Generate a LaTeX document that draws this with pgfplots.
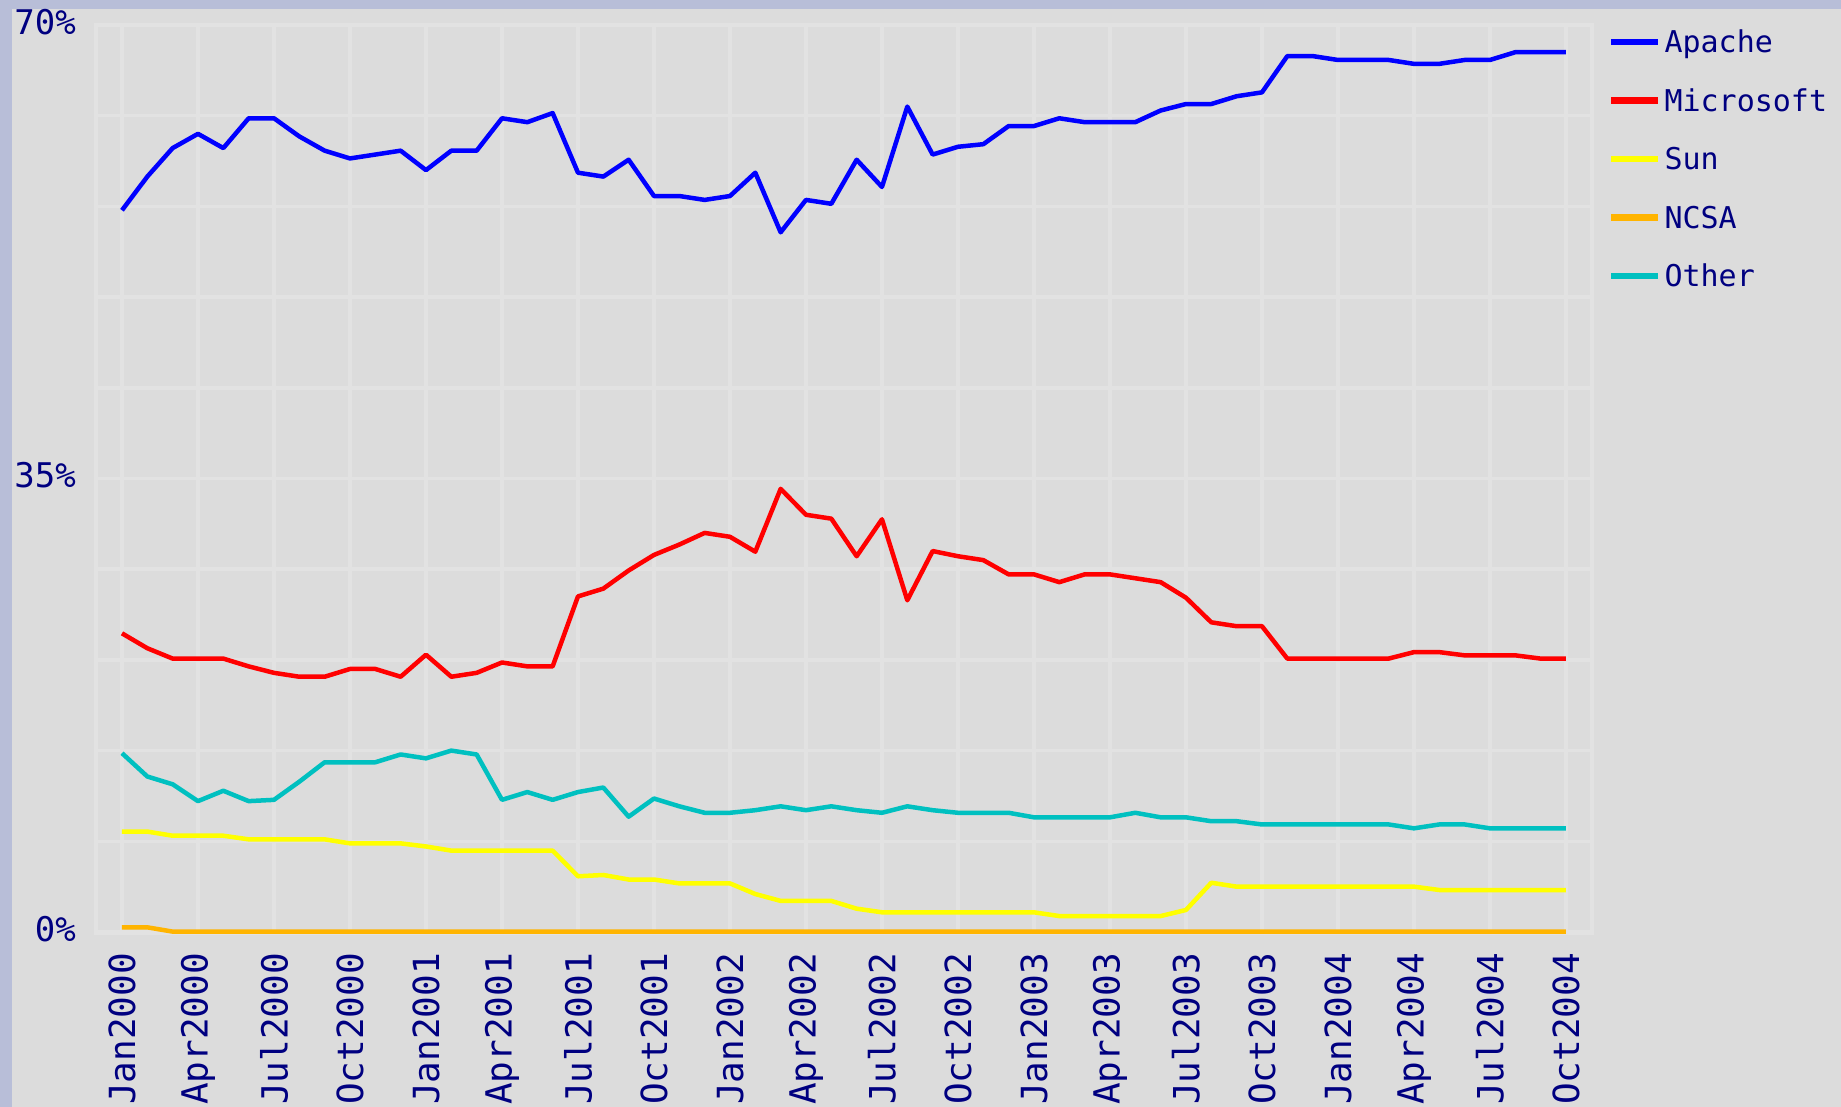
\documentclass[border=0pt]{standalone}
\usepackage{pgfplots}
\pgfplotsset{compat=1.18}
\usepackage{fontspec}
\newfontfamily\pix{DejaVu Sans Mono}
\definecolor{bordercol}{HTML}{B8BED8}
\definecolor{bgcol}{HTML}{DCDCDC}
\definecolor{gridcol}{HTML}{E2E2E2}
\definecolor{txtcol}{HTML}{000080}
\definecolor{apacheblue}{HTML}{0000FF}
\definecolor{msred}{HTML}{FF0000}
\definecolor{sunyellow}{HTML}{FFFF00}
\definecolor{ncsaorange}{HTML}{FFB400}
\definecolor{othercyan}{HTML}{00C0C0}
\begin{document}
\begin{tikzpicture}
\fill[bordercol] (0,0) rectangle (1841pt,1107pt);
\fill[bgcol] (12pt,0) rectangle (1841pt,1098pt);
\path[use as bounding box] (0,0) rectangle (1841pt,1107pt);
\begin{axis}[
  at={(96pt,174pt)}, anchor=south west,
  scale only axis, width=1496pt, height=908pt,
  xmin=-1.026, xmax=58.03, ymin=-0.077, ymax=70,
  clip=false,
  axis line style={gridcol, line width=3.5pt},
  grid style={gridcol, line width=3.5pt},
  minor grid style={gridcol, line width=3.5pt},
  xmajorgrids, ymajorgrids, yminorgrids,
  major tick length=0pt, minor tick length=0pt,
  xtick={0,3,...,57},
  xticklabels={Jan2000,Apr2000,Jul2000,Oct2000,Jan2001,Apr2001,Jul2001,Oct2001,Jan2002,Apr2002,Jul2002,Oct2002,Jan2003,Apr2003,Jul2003,Oct2003,Jan2004,Apr2004,Jul2004,Oct2004},
  ytick={0,35,70}, yticklabels={0\%,35\%,70\%},
  minor ytick={7,14,21,28,42,49,56,63},
  xticklabel style={rotate=90, anchor=east, inner sep=0pt, font=\pix\fontsize{36}{40}\selectfont, text=txtcol},
  xticklabel shift=20pt,
  yticklabel style={anchor=east, inner sep=0pt, font=\pix\fontsize{34}{40}\selectfont, text=txtcol, yshift=3pt},
  yticklabel shift=20pt,
  legend style={at={(1.0107,0.9978)}, anchor=north west, draw=none, fill=none, inner sep=0pt, outer sep=0pt, row sep=28.5pt, column sep=3pt, font=\pix\fontsize{30}{34}\selectfont, text=txtcol, nodes={inner sep=0pt, text height=25.9pt, text depth=4.1pt}},
  legend cell align=left,
  legend image code/.code={\draw[#1, line width=6.5pt] (0pt,0pt) -- (47pt,0pt);},
  every axis plot/.append style={mark=none, line width=4.5pt, line join=round},
]
\addplot[apacheblue] coordinates {
(0,55.7)(1,58.3)(2,60.5)(3,61.6)(4,60.5)(5,62.8)(6,62.8)(7,61.4)(8,60.3)(9,59.7)
(10,60.0)(11,60.3)(12,58.8)(13,60.3)(14,60.3)(15,62.8)(16,62.5)(17,63.2)(18,58.6)(19,58.3)
(20,59.6)(21,56.8)(22,56.8)(23,56.5)(24,56.8)(25,58.6)(26,54.0)(27,56.5)(28,56.2)(29,59.6)
(30,57.5)(31,63.7)(32,60.0)(33,60.6)(34,60.8)(35,62.2)(36,62.2)(37,62.8)(38,62.5)(39,62.5)
(40,62.5)(41,63.4)(42,63.9)(43,63.9)(44,64.5)(45,64.8)(46,67.6)(47,67.6)(48,67.3)(49,67.3)
(50,67.3)(51,67.0)(52,67.0)(53,67.3)(54,67.3)(55,67.9)(56,67.9)(57,67.9)};
\addlegendentry{Apache}
\addplot[msred] coordinates {
(0,23.05)(1,21.9)(2,21.1)(3,21.1)(4,21.1)(5,20.5)(6,20.0)(7,19.7)(8,19.7)(9,20.3)
(10,20.3)(11,19.7)(12,21.4)(13,19.7)(14,20.0)(15,20.8)(16,20.5)(17,20.5)(18,25.9)(19,26.5)
(20,27.9)(21,29.1)(22,29.9)(23,30.8)(24,30.5)(25,29.35)(26,34.2)(27,32.2)(28,31.9)(29,29.0)
(30,31.85)(31,25.6)(32,29.4)(33,29.0)(34,28.7)(35,27.6)(36,27.6)(37,27.0)(38,27.6)(39,27.6)
(40,27.3)(41,27.0)(42,25.8)(43,23.9)(44,23.6)(45,23.6)(46,21.1)(47,21.1)(48,21.1)(49,21.1)
(50,21.1)(51,21.6)(52,21.6)(53,21.35)(54,21.35)(55,21.35)(56,21.1)(57,21.1)};
\addlegendentry{Microsoft}
\addplot[sunyellow] coordinates {
(0,7.75)(1,7.75)(2,7.43)(3,7.43)(4,7.43)(5,7.15)(6,7.15)(7,7.15)(8,7.15)(9,6.84)
(10,6.84)(11,6.84)(12,6.6)(13,6.28)(14,6.28)(15,6.28)(16,6.28)(17,6.28)(18,4.3)(19,4.4)
(20,4.05)(21,4.05)(22,3.75)(23,3.75)(24,3.75)(25,2.93)(26,2.4)(27,2.4)(28,2.4)(29,1.8)
(30,1.52)(31,1.52)(32,1.52)(33,1.52)(34,1.52)(35,1.52)(36,1.52)(37,1.23)(38,1.23)(39,1.23)
(40,1.23)(41,1.23)(42,1.7)(43,3.8)(44,3.5)(45,3.5)(46,3.5)(47,3.5)(48,3.5)(49,3.5)
(50,3.5)(51,3.5)(52,3.24)(53,3.24)(54,3.24)(55,3.24)(56,3.24)(57,3.24)};
\addlegendentry{Sun}
\addplot[ncsaorange] coordinates {
(0,0.36)(1,0.36)(2,0.03)(3,0.03)(4,0.03)(5,0.03)(6,0.03)(7,0.03)(8,0.03)(9,0.03)
(10,0.03)(11,0.03)(12,0.03)(13,0.03)(14,0.03)(15,0.03)(16,0.03)(17,0.03)(18,0.03)(19,0.03)
(20,0.03)(21,0.03)(22,0.03)(23,0.03)(24,0.03)(25,0.03)(26,0.03)(27,0.03)(28,0.03)(29,0.03)
(30,0.03)(31,0.03)(32,0.03)(33,0.03)(34,0.03)(35,0.03)(36,0.03)(37,0.03)(38,0.03)(39,0.03)
(40,0.03)(41,0.03)(42,0.03)(43,0.03)(44,0.03)(45,0.03)(46,0.03)(47,0.03)(48,0.03)(49,0.03)
(50,0.03)(51,0.03)(52,0.03)(53,0.03)(54,0.03)(55,0.03)(56,0.03)(57,0.03)};
\addlegendentry{NCSA}
\addplot[othercyan] coordinates {
(0,13.8)(1,12.0)(2,11.4)(3,10.1)(4,10.9)(5,10.1)(6,10.2)(7,11.6)(8,13.1)(9,13.1)
(10,13.1)(11,13.7)(12,13.4)(13,14.0)(14,13.7)(15,10.2)(16,10.8)(17,10.2)(18,10.8)(19,11.15)
(20,8.9)(21,10.3)(22,9.7)(23,9.2)(24,9.2)(25,9.4)(26,9.7)(27,9.4)(28,9.7)(29,9.4)
(30,9.2)(31,9.7)(32,9.4)(33,9.2)(34,9.2)(35,9.2)(36,8.85)(37,8.85)(38,8.85)(39,8.85)
(40,9.2)(41,8.85)(42,8.85)(43,8.55)(44,8.55)(45,8.3)(46,8.3)(47,8.3)(48,8.3)(49,8.3)
(50,8.3)(51,8.0)(52,8.3)(53,8.3)(54,8.0)(55,8.0)(56,8.0)(57,8.0)};
\addlegendentry{Other}
\end{axis}
\end{tikzpicture}
\end{document}
